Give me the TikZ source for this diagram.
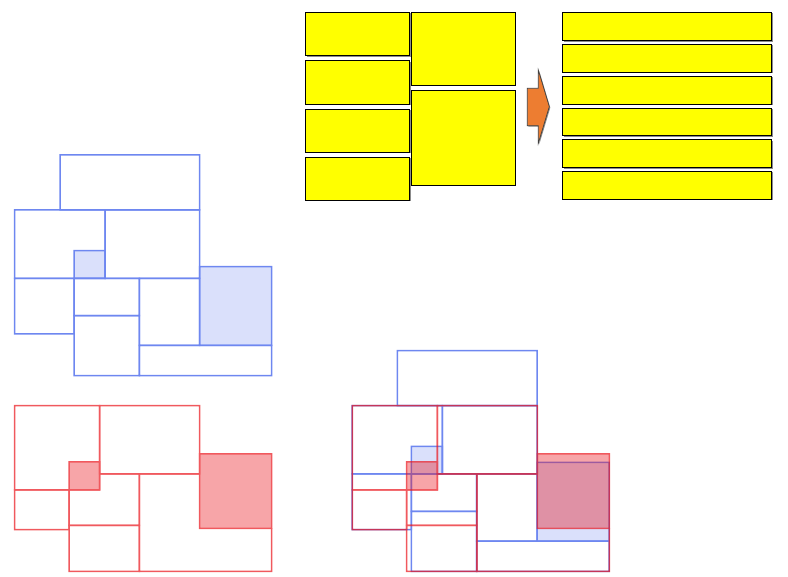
\documentclass[tikz,border=0pt]{standalone}
\usetikzlibrary{calc}
\definecolor{ybox}{RGB}{255,255,0}
\definecolor{orangearrow}{RGB}{237,125,49}
\definecolor{bluec}{RGB}{48,84,234}
\definecolor{redc}{RGB}{234,19,26}
\tikzset{
  yshape/.style={draw=black, fill=ybox, line width=0.9pt},
  yshadow/.style={fill=black!45, draw=none},
  bline/.style={draw=bluec, line width=1.5pt},
  bfill/.style={bline, fill=bluec, fill opacity=0.26},
  rline/.style={draw=redc, line width=1.5pt},
  rfill/.style={rline, fill=redc, fill opacity=0.54},
  layer/.style={transparency group, opacity=0.7},
  pics/bluelay/.style={code={
    \begin{scope}[layer]
    \draw[bline] (60,155) rectangle (199.7,210);
    \draw[bline] (14.7,210) rectangle (105,278.3);
    \draw[bline] (105,210) rectangle (199.7,278.3);
    \draw[bline] (14.7,278.3) rectangle (74,334);
    \draw[bline] (74,278.3) rectangle (139.3,315.7);
    \draw[bline] (74,315.7) rectangle (139.3,375.7);
    \draw[bline] (139.3,278.3) rectangle (199.7,345.3);
    \draw[bline] (139.3,345.3) rectangle (271.7,375.7);
    \draw[bfill] (74,250.7) rectangle (105,278.3);
    \draw[bfill] (199.7,266.7) rectangle (271.7,345.3);
    \end{scope}
  }},
  pics/redlay/.style={code={
    \begin{scope}[layer]
    \draw[rline] (14.7,405.7) rectangle (99.7,490);
    \draw[rline] (99.7,405.7) rectangle (199.7,474);
    \draw[rline] (14.7,490) rectangle (69,529.7);
    \draw[rline] (99.7,474) -- (139.3,474) -- (139.3,525.3) -- (69,525.3) -- (69,490);
    \draw[rline] (69,525.3) rectangle (139.3,571.3);
    \draw[rline] (199.7,474) -- (139.3,474) -- (139.3,571.3) -- (271.7,571.3) -- (271.7,528.3);
    \draw[rfill] (69,462) rectangle (99.7,490);
    \draw[rfill] (199.7,454) rectangle (271.7,528.3);
    \end{scope}
  }}
}
\newcommand{\ybx}[4]{%
  \fill[yshadow] (#1+1.2,#2+1.2) rectangle (#3+1.2,#4+1.2);
  \draw[yshape] (#1,#2) rectangle (#3,#4);}
\begin{document}
\begin{tikzpicture}[x=1pt,y=-1pt]
\useasboundingbox (0,0) rectangle (788,577);
% left yellow column
\ybx{305.3}{12.3}{409.3}{55.7}
\ybx{305.3}{60.7}{409.3}{104}
\ybx{305.3}{109}{409.3}{152}
\ybx{305.3}{157.3}{409.3}{200.3}
% right yellow column of the left group
\ybx{411.3}{12.3}{515}{85.3}
\ybx{411.3}{90}{515}{185.3}
% arrow
\fill[black!45] ($(527.3,88.3)+(1,1)$) -- ++(11,0) -- ++(0,-18.3) -- ($(549.3,106.7)+(1,1)$) -- ($(538.3,143.3)+(1,1)$) -- ++(0,-17.6) -- ($(527.3,125.7)+(1,1)$) -- cycle;
\draw[draw=black!75, fill=orangearrow, line width=0.7pt] (527.3,88.3) -- (538.3,88.3) -- (538.3,70) -- (549.3,106.7) -- (538.3,143.3) -- (538.3,125.7) -- (527.3,125.7) -- cycle;
% right yellow stack
\ybx{562.3}{12.3}{771.7}{40.7}
\ybx{562.3}{44.3}{771.7}{72.3}
\ybx{562.3}{76}{771.7}{104}
\ybx{562.3}{108}{771.7}{135.7}
\ybx{562.3}{139.7}{771.7}{167.7}
\ybx{562.3}{171.3}{771.7}{199.3}
% layouts
\pic at (0,0) {bluelay};
\pic at (0,0) {redlay};
\pic at (337.4,195.7) {bluelay};
\pic at (337.6,0) {redlay};
\end{tikzpicture}
\end{document}
